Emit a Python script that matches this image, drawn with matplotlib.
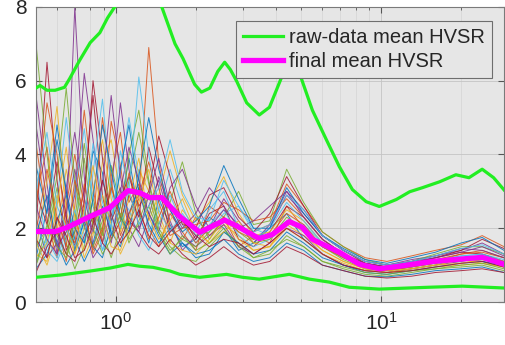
import matplotlib
matplotlib.use("Agg")
import matplotlib.pyplot as plt
from matplotlib.ticker import LogLocator, NullFormatter, FixedLocator

plt.rcParams['font.family'] = ['Liberation Sans', 'DejaVu Sans']

# Frequency samples (Hz) shared by the individual window HVSR curves
freq = [0.5, 0.55, 0.6, 0.65, 0.7, 0.76, 0.82, 0.89, 0.96, 1.04, 1.12, 1.22,
        1.33, 1.45, 1.6, 1.78, 2.0, 2.25, 2.55, 2.9, 3.3, 3.8, 4.4, 5.1, 6.0,
        7.2, 8.7, 10.5, 13, 16, 20, 24, 29]

# Individual window HVSR curves
c01 = [1.2, 2.5, 4.8, 3.0, 1.4, 2.2, 4.1, 3.5, 1.8, 2.6, 3.9, 2.4, 1.6, 2.8, 2.1, 1.5, 1.7, 2.3, 2.0, 1.4, 1.6, 2.0, 2.4, 1.7, 1.3, 1.0, 0.85, 0.80, 0.90, 1.00, 1.20, 1.10, 1.00]
c02 = [2.8, 4.2, 2.0, 1.1, 2.6, 5.2, 3.1, 1.6, 3.4, 4.6, 2.7, 3.2, 2.0, 1.5, 2.4, 1.9, 1.4, 2.6, 2.3, 1.5, 1.8, 1.6, 2.6, 2.0, 1.5, 1.2, 0.95, 0.85, 0.95, 1.10, 1.30, 1.40, 1.20]
c03 = [1.6, 1.0, 1.9, 3.6, 2.4, 1.2, 1.8, 3.8, 4.4, 2.9, 2.2, 3.6, 3.0, 2.2, 1.6, 2.5, 2.0, 1.6, 2.1, 1.8, 1.4, 1.5, 2.1, 1.8, 1.4, 1.1, 0.90, 0.80, 0.85, 0.95, 1.00, 1.05, 0.95]
c04 = [5.6, 3.2, 1.3, 2.1, 8.0, 3.4, 1.5, 2.4, 3.0, 5.4, 3.6, 2.0, 2.6, 3.3, 2.2, 1.4, 1.8, 2.0, 2.8, 2.2, 1.7, 2.0, 2.9, 2.4, 1.8, 1.4, 1.10, 1.00, 1.15, 1.25, 1.40, 1.60, 1.30]
c05 = [1.0, 1.8, 3.1, 1.6, 0.9, 1.5, 2.8, 1.9, 1.2, 2.0, 3.3, 4.6, 3.2, 2.0, 1.5, 1.2, 1.1, 1.5, 1.9, 1.6, 1.2, 1.3, 1.8, 1.5, 1.1, 0.9, 0.75, 0.70, 0.80, 0.90, 0.95, 1.00, 0.85]
c06 = [3.4, 1.5, 2.7, 5.0, 3.1, 1.8, 2.4, 1.4, 2.3, 3.5, 5.0, 3.4, 1.9, 2.5, 3.6, 2.6, 1.8, 1.9, 2.4, 2.6, 2.0, 1.8, 2.2, 2.1, 1.6, 1.3, 1.00, 0.90, 1.00, 1.15, 1.25, 1.30, 1.15]
c07 = [2.0, 6.5, 3.3, 1.4, 1.9, 3.0, 5.6, 2.9, 1.7, 2.2, 2.9, 2.3, 4.2, 3.1, 1.9, 2.3, 1.7, 2.4, 2.6, 1.7, 1.5, 1.9, 2.6, 2.3, 1.7, 1.3, 1.05, 0.95, 1.05, 1.20, 1.35, 1.30, 1.10]
c08 = [0.9, 1.3, 2.2, 2.9, 1.7, 1.1, 1.6, 2.6, 1.9, 1.5, 2.4, 3.1, 2.4, 1.8, 1.3, 1.6, 1.3, 1.4, 1.7, 1.3, 1.1, 1.2, 1.6, 1.4, 1.0, 0.85, 0.70, 0.68, 0.75, 0.85, 0.90, 0.95, 0.80]
c09 = [4.3, 2.2, 1.2, 2.6, 4.0, 2.6, 1.3, 1.9, 4.9, 3.7, 2.1, 2.8, 6.9, 3.8, 2.0, 1.7, 2.3, 1.8, 2.2, 2.0, 1.9, 2.1, 3.2, 2.6, 1.9, 1.5, 1.20, 1.10, 1.25, 1.40, 1.55, 1.80, 1.50]
c10 = [1.4, 3.3, 5.3, 2.5, 1.3, 2.0, 3.0, 4.4, 2.8, 1.9, 2.8, 3.9, 2.2, 2.9, 4.1, 2.9, 2.2, 2.7, 3.4, 2.4, 1.8, 1.9, 2.5, 2.2, 1.6, 1.2, 0.95, 0.90, 1.00, 1.05, 1.15, 1.20, 1.05]
c11 = [2.3, 1.2, 1.6, 2.4, 3.6, 2.1, 1.2, 1.6, 2.5, 3.1, 2.0, 1.5, 2.3, 3.4, 2.5, 1.8, 1.5, 1.8, 2.1, 1.5, 1.3, 1.6, 2.0, 1.8, 1.3, 1.0, 0.85, 0.80, 0.90, 1.00, 1.10, 1.20, 1.00]
c12 = [7.0, 4.0, 1.8, 1.3, 2.2, 4.3, 2.6, 1.8, 3.2, 2.2, 4.0, 5.2, 3.3, 2.1, 2.7, 3.8, 2.4, 1.7, 2.3, 3.0, 2.1, 2.2, 3.6, 2.7, 1.9, 1.5, 1.15, 1.00, 1.10, 1.30, 1.50, 1.50, 1.30]
c13 = [1.1, 1.7, 1.2, 1.9, 3.0, 4.7, 2.7, 1.4, 1.9, 2.8, 2.5, 1.8, 1.4, 2.1, 2.9, 2.1, 1.6, 2.1, 2.5, 1.8, 1.5, 1.7, 2.2, 1.9, 1.5, 1.2, 0.95, 0.85, 0.95, 1.05, 1.15, 1.25, 1.05]
c14 = [3.0, 2.1, 3.8, 2.3, 1.5, 2.7, 6.0, 3.9, 2.2, 2.8, 3.4, 2.6, 3.0, 4.5, 3.4, 2.1, 2.0, 2.9, 3.1, 2.3, 1.9, 2.4, 3.4, 2.6, 1.8, 1.4, 1.05, 0.95, 1.05, 1.20, 1.40, 1.70, 1.45]
c15 = [1.8, 2.9, 1.6, 1.0, 1.4, 2.2, 1.5, 1.2, 2.1, 3.6, 4.8, 3.0, 2.1, 1.6, 2.0, 1.6, 1.2, 1.3, 1.9, 1.6, 1.3, 1.4, 1.9, 1.6, 1.2, 1.0, 0.80, 0.75, 0.85, 0.95, 1.05, 1.10, 0.95]
c16 = [2.5, 5.4, 4.0, 2.0, 1.6, 3.2, 2.1, 5.0, 3.3, 1.8, 2.4, 2.9, 3.8, 2.7, 1.8, 2.0, 2.1, 2.2, 2.7, 2.5, 2.2, 2.3, 2.8, 2.3, 1.7, 1.3, 1.00, 0.95, 1.05, 1.15, 1.30, 1.35, 1.20]
c17 = [1.3, 1.1, 2.6, 4.2, 2.3, 1.4, 1.9, 2.9, 2.1, 1.3, 1.8, 2.7, 3.6, 2.4, 1.6, 1.4, 1.3, 1.7, 2.2, 1.7, 1.4, 1.5, 2.0, 1.7, 1.3, 1.05, 0.85, 0.80, 0.90, 1.00, 1.05, 1.15, 1.00]
c18 = [4.8, 2.7, 1.5, 1.9, 2.9, 6.2, 4.4, 2.3, 1.6, 3.0, 4.2, 3.3, 2.4, 1.9, 3.1, 3.6, 2.6, 2.0, 2.5, 2.1, 1.6, 2.1, 3.0, 2.5, 1.8, 1.4, 1.10, 1.00, 1.10, 1.25, 1.45, 1.40, 1.20]
c19 = [1.5, 2.0, 3.4, 5.8, 3.3, 2.0, 1.5, 2.2, 3.7, 2.6, 1.7, 2.1, 2.6, 1.9, 1.4, 1.7, 1.5, 1.9, 2.3, 1.9, 1.6, 1.7, 2.3, 2.0, 1.5, 1.15, 0.90, 0.85, 0.95, 1.05, 1.20, 1.20, 1.05]
c20 = [2.1, 1.4, 1.1, 1.7, 2.5, 1.6, 3.5, 5.5, 3.0, 2.0, 3.0, 6.1, 4.0, 2.5, 1.9, 2.4, 1.9, 2.5, 3.0, 2.0, 1.7, 2.0, 2.7, 2.2, 1.6, 1.25, 1.00, 0.90, 1.00, 1.10, 1.25, 1.30, 1.10]
c21 = [0.8, 1.5, 1.9, 1.3, 1.1, 1.8, 2.3, 1.6, 1.3, 1.7, 2.2, 1.9, 1.5, 1.3, 1.7, 1.3, 1.0, 1.2, 1.5, 1.2, 1.0, 1.1, 1.5, 1.3, 1.0, 0.85, 0.70, 0.65, 0.70, 0.80, 0.85, 0.90, 0.80]
c22 = [3.7, 2.4, 4.4, 3.0, 2.0, 1.6, 2.8, 4.8, 3.6, 2.3, 1.9, 3.4, 5.0, 3.6, 2.5, 1.9, 2.2, 2.6, 3.7, 2.8, 2.0, 2.0, 3.1, 2.4, 1.8, 1.45, 1.15, 1.05, 1.20, 1.35, 1.60, 1.75, 1.40]
c23 = [1.9, 3.6, 2.3, 1.5, 3.3, 2.4, 1.4, 2.0, 3.1, 2.3, 3.5, 2.6, 1.7, 2.3, 3.0, 2.2, 1.6, 2.0, 2.3, 1.9, 1.7, 1.8, 2.4, 2.1, 1.5, 1.2, 0.95, 0.85, 0.95, 1.05, 1.20, 1.25, 1.10]
c24 = [1.2, 1.6, 2.9, 2.0, 1.3, 2.5, 3.7, 2.4, 1.5, 1.4, 2.1, 3.0, 2.3, 1.7, 2.2, 2.8, 1.9, 1.6, 1.9, 2.2, 1.6, 1.5, 2.2, 1.9, 1.4, 1.1, 0.90, 0.85, 0.90, 1.00, 1.15, 1.05, 0.95]
c25 = [2.6, 1.7, 1.3, 3.1, 4.6, 2.8, 1.9, 3.2, 5.6, 3.4, 2.3, 1.9, 2.9, 3.9, 2.6, 2.0, 2.4, 3.1, 2.6, 2.0, 2.2, 2.6, 3.0, 2.3, 1.7, 1.3, 1.05, 0.95, 1.10, 1.20, 1.35, 1.50, 1.25]
c26 = [1.0, 2.1, 1.5, 1.2, 1.9, 3.9, 2.0, 1.3, 1.7, 2.4, 1.6, 2.2, 2.9, 1.9, 1.3, 1.8, 1.4, 1.6, 2.0, 1.5, 1.2, 1.4, 1.7, 1.5, 1.1, 0.95, 0.80, 0.75, 0.85, 0.90, 1.00, 1.05, 0.90]
c27 = [3.1, 4.6, 2.6, 2.0, 1.5, 2.3, 4.3, 2.7, 2.0, 4.1, 3.0, 2.1, 2.6, 3.1, 4.4, 3.0, 2.3, 2.2, 3.3, 2.6, 1.9, 2.1, 2.9, 2.5, 1.8, 1.4, 1.10, 1.00, 1.10, 1.25, 1.45, 1.55, 1.30]
c28 = [1.7, 1.2, 2.3, 1.8, 1.2, 1.4, 2.1, 3.3, 2.4, 1.6, 1.9, 2.5, 1.8, 1.5, 1.9, 2.2, 1.8, 1.5, 1.7, 1.6, 1.3, 1.6, 2.0, 1.7, 1.3, 1.0, 0.85, 0.80, 0.85, 0.95, 1.05, 1.10, 0.95]
window_curves = [c01, c02, c03, c04, c05, c06, c07, c08, c09, c10, c11, c12, c13, c14,
                 c15, c16, c17, c18, c19, c20, c21, c22, c23, c24, c25, c26, c27, c28]

# Raw-data statistics: upper envelope (mean + std) and lower envelope
raw_upper_f = [0.5, 0.518, 0.55, 0.59, 0.64, 0.67, 0.73, 0.80, 0.87, 0.93, 0.99,
               1.1, 1.25, 1.46, 1.67, 1.79, 1.98, 2.10, 2.26, 2.42, 2.57, 2.70,
               2.85, 3.11, 3.47, 3.79, 4.21, 4.54, 4.92, 5.50, 6.21, 6.95, 7.78,
               8.77, 9.83, 11.4, 12.8, 14.3, 16.6, 19.1, 21.4, 24.0, 26.5, 29.0]
raw_upper = [5.8, 5.87, 5.74, 5.74, 5.82, 6.06, 6.55, 7.03, 7.3, 7.7, 8.0,
             8.4, 8.6, 8.17, 7.0, 6.6, 5.9, 5.69, 5.8, 6.25, 6.5, 6.3,
             5.99, 5.4, 5.07, 5.28, 6.09, 6.6, 6.2, 5.2, 4.4, 3.67, 3.05,
             2.72, 2.59, 2.78, 2.99, 3.1, 3.26, 3.45, 3.37, 3.6, 3.37, 3.04]
raw_lower_f = [0.5, 0.616, 0.80, 0.95, 1.11, 1.23, 1.38, 1.60, 1.74, 2.07,
               2.61, 3.0, 3.47, 4.5, 5.36, 6.37, 7.58, 9.83, 15.1, 20.2, 29.0]
raw_lower = [0.67, 0.73, 0.84, 0.92, 1.02, 0.97, 0.94, 0.84, 0.75, 0.67,
             0.75, 0.67, 0.62, 0.75, 0.62, 0.54, 0.40, 0.35, 0.40, 0.43, 0.38]

# Final mean HVSR
mean_f = [0.5, 0.59, 0.654, 0.80, 0.95, 1.11, 1.23, 1.34, 1.49, 1.60, 1.74,
          2.07, 2.57, 2.87, 3.47, 3.89, 4.5, 5.05, 5.50, 6.95, 8.28, 9.83,
          11.7, 15.6, 19.6, 24.0, 26.9, 29.0]
mean_hvsr = [1.91, 1.91, 2.02, 2.32, 2.56, 3.02, 2.96, 2.83, 2.83, 2.59, 2.32,
             1.89, 2.22, 2.05, 1.72, 1.83, 2.18, 2.02, 1.70, 1.35, 1.02, 0.90,
             0.97, 1.10, 1.16, 1.21, 1.10, 1.02]

line_colors = ['#0072BD', '#D95319', '#EDB120', '#7E2F8E',
               '#77AC30', '#4DBEEE', '#A2142F']

fig = plt.figure(figsize=(5.05, 3.45), dpi=100)
ax = fig.add_axes([0.0713, 0.1246, 0.9267, 0.8554])
ax.set_facecolor('#e6e6e6')

for k, curve in enumerate(window_curves):
    ax.plot(freq, curve, color=line_colors[k % len(line_colors)],
            lw=0.7, alpha=0.85, zorder=2)

green = '#22ee22'
ax.plot(raw_upper_f, raw_upper, color=green, lw=2.3, zorder=3,
        label='raw-data mean HVSR', solid_joinstyle='round')
ax.plot(raw_lower_f, raw_lower, color=green, lw=2.3, zorder=3,
        solid_joinstyle='round')
ax.plot(mean_f, mean_hvsr, color='#ff00ff', lw=3.8, zorder=4,
        label='final mean HVSR', solid_joinstyle='round')

ax.set_xscale('log')
ax.set_xlim(0.5, 29)
ax.set_ylim(0, 8)
ax.yaxis.set_major_locator(FixedLocator([0, 2, 4, 6, 8]))
ax.xaxis.set_major_locator(LogLocator(base=10))
ax.xaxis.set_minor_locator(LogLocator(base=10, subs=range(2, 10)))
ax.xaxis.set_minor_formatter(NullFormatter())

ax.grid(True, which='major', color='#c4c4c4', lw=0.6, zorder=0)
ax.grid(True, which='minor', axis='x', color='#d4d4d4', lw=0.5, zorder=0)
ax.set_axisbelow(True)

for s in ax.spines.values():
    s.set_color('#7a7a7a')
    s.set_linewidth(0.8)
ax.tick_params(which='both', direction='in', top=True, right=True,
               colors='#555555', labelcolor='#262626', labelsize=15)
ax.tick_params(which='major', length=4, pad=7)
ax.tick_params(which='minor', length=2.5)

leg = ax.legend(loc='upper right', bbox_to_anchor=(0.974, 0.952),
                borderaxespad=0, fontsize=14.5, handlelength=2.0,
                handletextpad=0.3, labelspacing=0.25, borderpad=0.35,
                fancybox=False, framealpha=1)
leg.get_frame().set_facecolor('#e6e6e6')
leg.get_frame().set_edgecolor('#6e6e6e')
leg.get_frame().set_linewidth(0.8)
for t in leg.get_texts():
    t.set_color('#262626')

fig.savefig('out.png', dpi=100)
